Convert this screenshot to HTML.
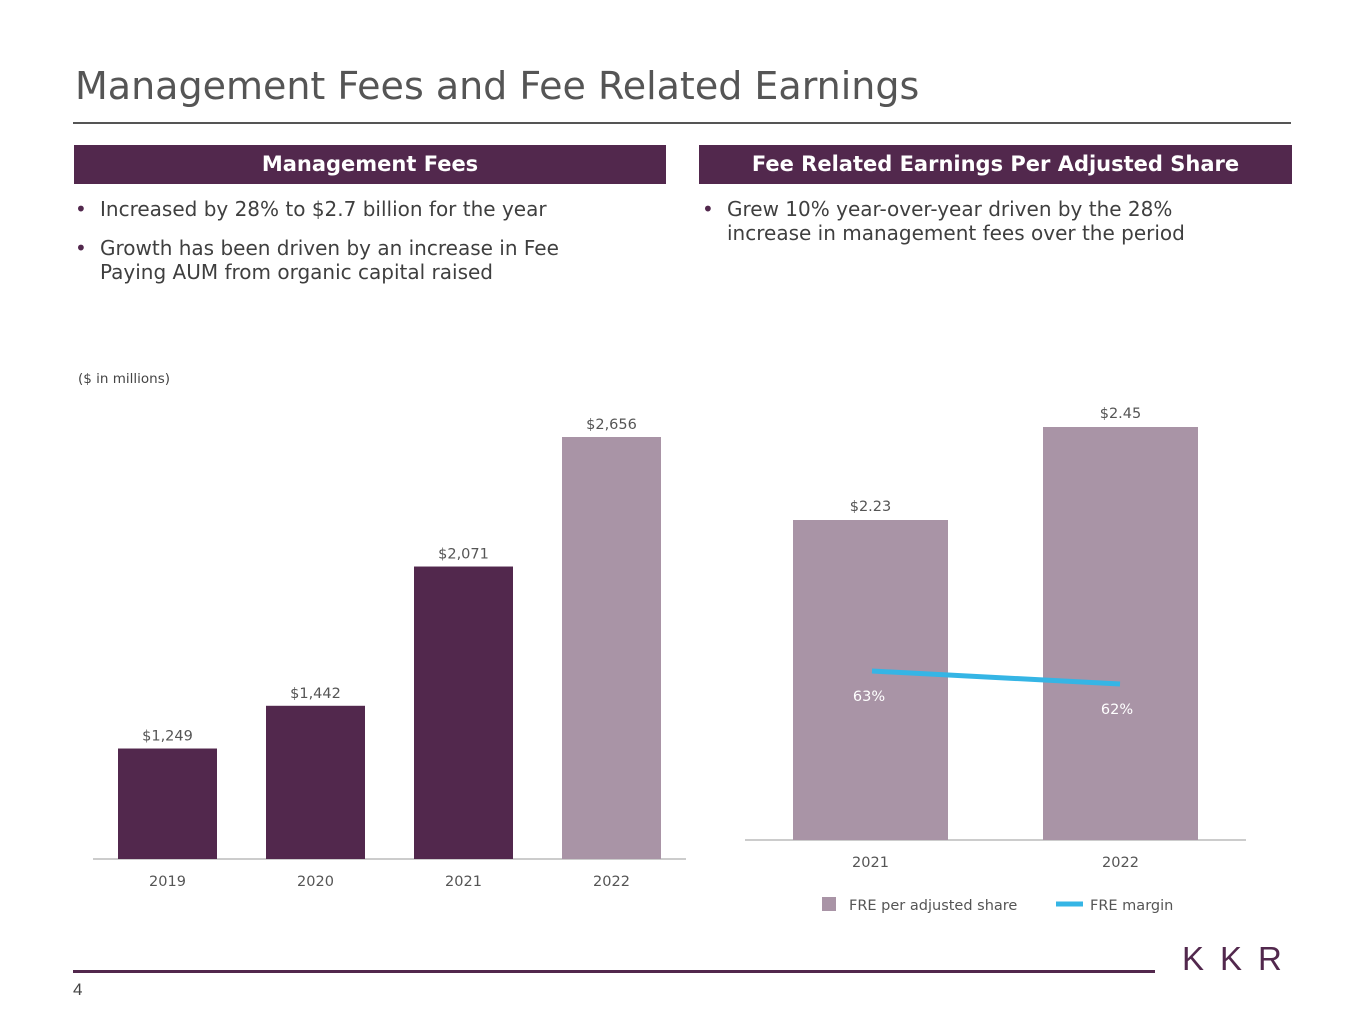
<!DOCTYPE html>
<html><head><meta charset="utf-8"><style>
body{margin:0;width:1365px;height:1024px;background:#fff;font-family:"Liberation Sans","DejaVu Sans",sans-serif;position:relative;overflow:hidden}
.abs{position:absolute}
.hdr{position:absolute;top:145px;height:39px;background:#52284d;color:#fff;font-weight:bold;font-size:21px;text-align:center;line-height:39px;font-family:"DejaVu Sans",sans-serif}
ul{margin:0;padding:0;list-style:none;position:absolute;font-size:20px;color:#3f3f3f;font-family:"DejaVu Sans",sans-serif;line-height:24px}
li{position:relative;padding-left:25px;margin-bottom:15px}
li:before{content:"•";position:absolute;left:0;color:#52284d}
svg text{font-family:"DejaVu Sans",sans-serif}
</style></head><body>
<div class="abs" style="left:75px;top:64px;font-size:38px;color:#555;font-family:'DejaVu Sans',sans-serif">Management Fees and Fee Related Earnings</div>
<div class="abs" style="left:73px;top:122px;width:1218px;height:2px;background:#555"></div>
<div class="hdr" style="left:74px;width:592px">Management Fees</div>
<div class="hdr" style="left:699px;width:593px">Fee Related Earnings Per Adjusted Share</div>
<ul style="left:75px;top:197px;width:520px">
<li>Increased by 28% to $2.7 billion for the year</li>
<li>Growth has been driven by an increase in Fee Paying AUM from organic capital raised</li></ul>
<ul style="left:702px;top:197px;width:560px">
<li>Grew 10% year-over-year driven by the 28% increase in management fees over the period</li></ul>
<div class="abs" style="left:78px;top:371px;font-size:13.5px;color:#444;font-family:'DejaVu Sans',sans-serif">($ in millions)</div>
<svg class="abs" style="left:0;top:0" width="1365" height="1024" id="chart"></svg>
<div class="abs" style="left:73px;top:970px;width:1082px;height:3px;background:#52284d"></div>
<div class="abs" style="left:1182px;top:940px;font-size:33px;color:#52284d;letter-spacing:16px;font-weight:300">KKR</div>
<div class="abs" style="left:73px;top:980px;font-size:17px;color:#444">4</div>
<script>
const mfYears=["2019","2020","2021","2022"];
const mfValues=[1249,1442,2071,2656];
const mfLabels=["$1,249","$1,442","$2,071","$2,656"];
const freYears=["2021","2022"];
const freValues=[2.23,2.45];
const freLabels=["$2.23","$2.45"];
const marginValues=[63,62];
const marginLabels=["63%","62%"];
const svg=document.getElementById('chart');const NS="http://www.w3.org/2000/svg";
function mk(t,a,txt){const e=document.createElementNS(NS,t);for(const k in a)e.setAttribute(k,a[k]);if(txt!=null)e.textContent=txt;svg.appendChild(e);return e;}
const FS=14.5;
const lBase=859,lMin=750,lScale=422/(2656-750);
const ly=v=>lBase-(v-lMin)*lScale;
const lx=i=>118+i*148;
let ax=mk('line',{x1:93,x2:686,y1:lBase,y2:lBase,stroke:'#999','stroke-width':1});

mfValues.forEach((v,i)=>{
 const r=mk('rect',{x:lx(i),y:ly(v),width:99,height:lBase-ly(v),fill:i==3?'#a994a6':'#52284d'});
 
 const t=mk('text',{x:lx(i)+49.5,y:ly(v)-8,'text-anchor':'middle','font-size':FS,fill:'#555'},mfLabels[i]);
 
 const c=mk('text',{x:lx(i)+49.5,y:886,'text-anchor':'middle','font-size':FS,fill:'#555'},mfYears[i]);
 
});
const rBase=840,rMin=1.473,rScale=413/(2.45-1.473);
const ry=v=>rBase-(v-rMin)*rScale;
const rx=i=>793+i*250;
let ax2=mk('line',{x1:745,x2:1246,y1:rBase,y2:rBase,stroke:'#999','stroke-width':1});

freValues.forEach((v,i)=>{
 const r=mk('rect',{x:rx(i),y:ry(v),width:155,height:rBase-ry(v),fill:'#a994a6'});
 
 const t=mk('text',{x:rx(i)+77.5,y:ry(v)-9,'text-anchor':'middle','font-size':FS,fill:'#555'},freLabels[i]);
 
 const c=mk('text',{x:rx(i)+77.5,y:867,'text-anchor':'middle','font-size':FS,fill:'#555'},freYears[i]);
 
});
const my=v=>671+(63-v)*13;
const mx=i=>872+i*248;
const pts=marginValues.map((v,i)=>mx(i)+','+my(v)).join(' ');
const pl=mk('polyline',{points:pts,fill:'none',stroke:'#35b5e5','stroke-width':5});

marginValues.forEach((v,i)=>{
 const t=mk('text',{x:mx(i)-3,y:my(v)+30,'text-anchor':'middle','font-size':FS,fill:'#fff'},marginLabels[i]);
 
});
let lg=mk('rect',{x:822,y:897,width:14,height:14,fill:'#a994a6'});

let lt=mk('text',{x:849,y:910,'font-size':FS,fill:'#555'},'FRE per adjusted share');

let lm=mk('line',{x1:1056,x2:1083,y1:904,y2:904,stroke:'#35b5e5','stroke-width':5});

let lmt=mk('text',{x:1090,y:910,'font-size':FS,fill:'#555'},'FRE margin');

</script>
</body></html>
